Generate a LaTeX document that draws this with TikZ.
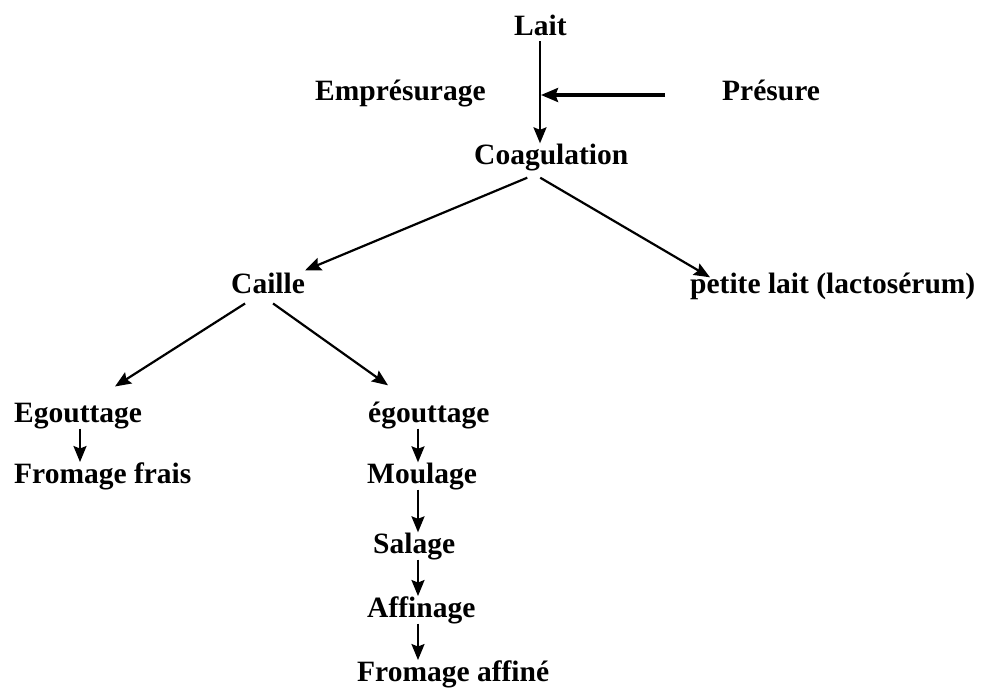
\documentclass[tikz,border=0pt]{standalone}
\usepackage{fontspec}
\setmainfont{Liberation Serif}
\usetikzlibrary{arrows.meta,calc}
\begin{document}
\begin{tikzpicture}[x=1pt,y=-1pt,
  lbl/.style={inner sep=0pt,anchor=base west,font=\fontsize{29.5}{32}\selectfont\bfseries},
  arr/.style={line width=2.2pt,-{Stealth[length=16pt,width=13pt,inset=2.5pt]}}]
\useasboundingbox[fill=white] (0,0) rectangle (984,688);
% nodes
\node[lbl] (lait) at (514,35) {Lait};
\node[lbl] (empr) at (315,100) {Emprésurage};
\node[lbl] (pres) at (722,100) {Présure};
\node[lbl] (coag) at (474,164) {Coagulation};
\node[lbl] (caille) at (231,293) {Caille};
\node[lbl] (petit) at (690,293) {petite lait (lactosérum)};
\node[lbl] (egA) at (14,422) {Egouttage};
\node[lbl] (egB) at (368,422) {égouttage};
\node[lbl] (frais) at (14,483) {Fromage frais};
\node[lbl] (moul) at (367,483) {Moulage};
\node[lbl] (sal) at (373,553) {Salage};
\node[lbl] (aff) at (367,617) {Affinage};
\node[lbl] (fraff) at (357,681) {Fromage affiné};
% helper coordinates
\coordinate (cmain) at (540,0);
\coordinate (cleft) at (80,0);
\coordinate (cright) at (418,0);
\coordinate (join) at (541,95);
\coordinate (pin) at (665,95);
% connectors
\draw[arr,shorten <=6pt] (lait.south -| cmain) -- (coag.north -| cmain);
\draw[arr,line width=3.2pt,-{Stealth[length=17pt,width=14pt,inset=2.5pt]}] (pin) -- (join);
\draw[arr] ($(coag.south)+(-24,7)$) -- ($(caille.north east)+(0,-2)$);
\draw[arr] ($(coag.south)+(-11,7)$) -- ($(petit.north west)+(20,5)$);
\draw[arr] ($(caille.south)+(-23,10)$) -- ($(egA.north west)+(101,-16)$);
\draw[arr] ($(caille.south)+(5,10)$) -- ($(egB.north west)+(20,-16)$);
\draw[arr] (egA.south -| cleft) -- (frais.north -| cleft);
\draw[arr] (egB.south -| cright) -- (moul.north -| cright);
\draw[arr] (moul.south -| cright) -- (sal.north -| cright);
\draw[arr] (sal.south -| cright) -- (aff.north -| cright);
\draw[arr] (aff.south -| cright) -- (fraff.north -| cright);
\end{tikzpicture}
\end{document}
